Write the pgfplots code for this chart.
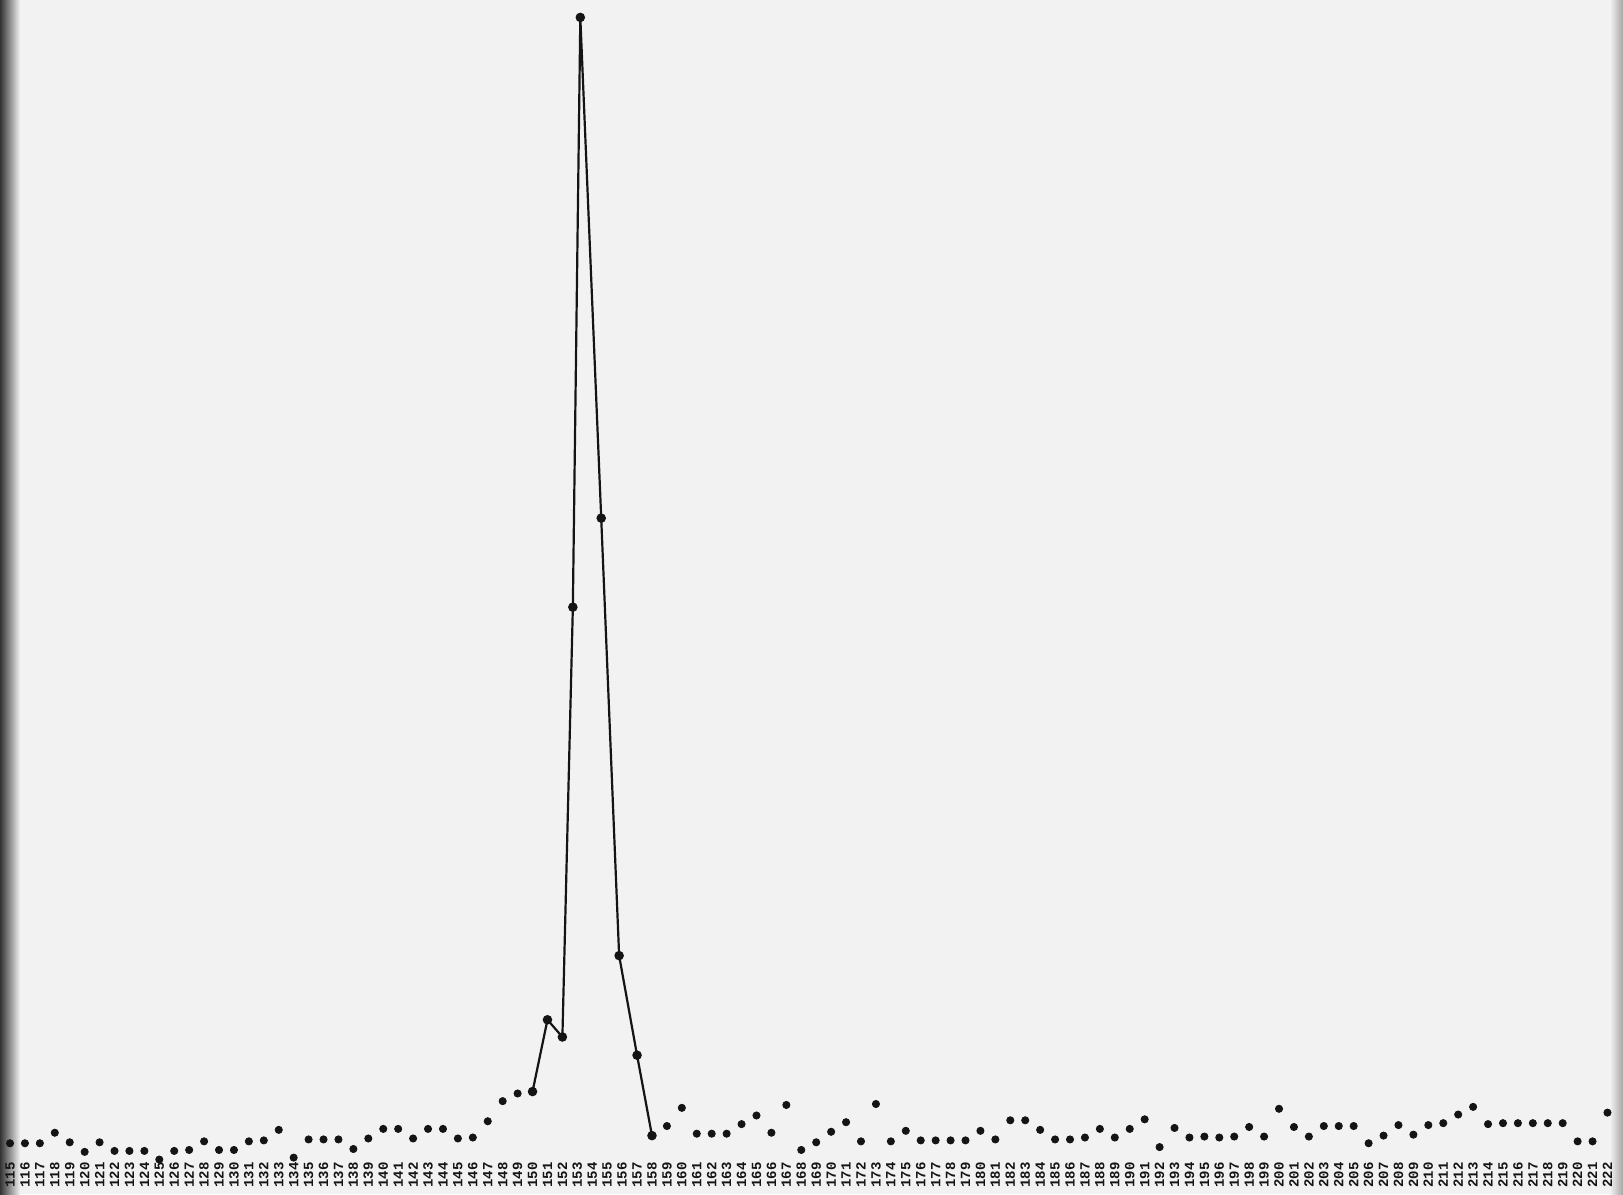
\documentclass[border=0pt]{standalone}
\usepackage{fontspec}
\setmonofont{Liberation Mono}
\usepackage{pgfplots}
\pgfplotsset{compat=1.18}
\definecolor{paper}{RGB}{242,242,242}
\definecolor{ink}{RGB}{20,20,20}

\begin{document}
\begin{tikzpicture}
% paper and scan shadows (axis box sits at the origin)
\fill[paper] (0,-16.85pt) rectangle (811.5pt,580.15pt);
\shade[left color=black!80, right color=paper] (0,-16.85pt) rectangle (10pt,580.15pt);
\shade[left color=paper, right color=black!35] (805pt,-16.85pt) rectangle (811.5pt,580.15pt);

\begin{axis}[
    at={(0,0)}, anchor=south west,
    scale only axis,
    width=811.5pt, height=580.15pt,
    xmin=114.33, xmax=223.04,
    ymin=0.9, ymax=122.1,
    clip=false,
    axis line style={draw=none},
    major tick length=0pt,
    ytick=\empty,
    xtick={115,...,222},
    /pgf/number format/assume math mode=true,
    xticklabel style={rotate=90, anchor=east, inner sep=0.8pt, text=ink,
        font=\ttfamily\bfseries\fontsize{7}{7}\selectfont},
]
% isolated points
\addplot[only marks, mark=*, mark size=1.8pt, ink] coordinates {
(115,2.7)(116,2.7)(117,2.7)(118,3.8)(119,2.8)(120,1.8)(121,2.8)(122,1.9)(123,1.9)(124,1.9)
(125,1.0)(126,1.9)(127,2.0)(128,2.9)(129,2.0)(130,2.0)(131,2.9)(132,3.0)(133,4.1)(134,1.2)
(135,3.1)(136,3.1)(137,3.1)(138,2.1)(139,3.2)(140,4.2)(141,4.2)(142,3.2)(143,4.2)(144,4.2)
(145,3.2)(146,3.3)(147,5.0)(148,7.1)(149,7.9)
(159,4.5)(160,6.4)(161,3.7)(162,3.7)(163,3.7)(164,4.7)(165,5.6)(166,3.8)(167,6.7)(168,2.0)
(169,2.8)(170,3.9)(171,4.9)(172,2.9)(173,6.8)(174,2.9)(175,4.0)(176,3.0)(177,3.0)(178,3.0)
(179,3.0)(180,4.0)(181,3.1)(182,5.1)(183,5.1)(184,4.1)(185,3.1)(186,3.1)(187,3.3)(188,4.2)
(189,3.3)(190,4.2)(191,5.2)(192,2.3)(193,4.3)(194,3.3)(195,3.4)(196,3.3)(197,3.4)(198,4.4)
(199,3.4)(200,6.3)(201,4.4)(202,3.4)(203,4.5)(204,4.5)(205,4.5)(206,2.7)(207,3.5)(208,4.6)
(209,3.6)(210,4.6)(211,4.8)(212,5.7)(213,6.5)(214,4.7)(215,4.8)(216,4.8)(217,4.8)(218,4.8)
(219,4.8)(220,2.9)(221,2.9)(222,5.9)
};

% connected peak
\addplot[ink, line width=1.1pt, mark=*, mark size=1.8pt] coordinates {
(150,8.1)(151,15.6)(152,13.8)(152.7,58.7)(153.2,120.3)(154.6,68.0)(155.8,22.3)(157,11.9)(158,3.5)
};
\end{axis}
\end{tikzpicture}
\end{document}
